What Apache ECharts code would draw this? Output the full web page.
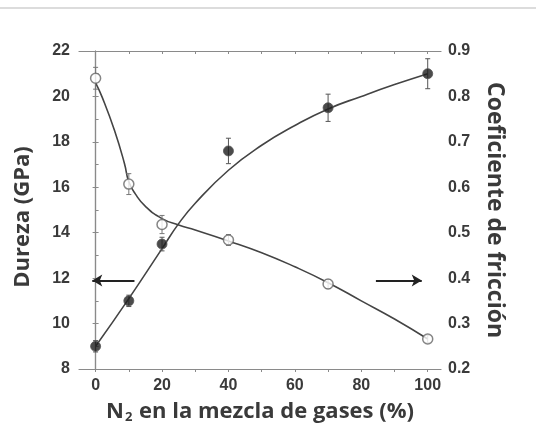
<!DOCTYPE html>
<html><head><meta charset="utf-8">
<script src="https://cdn.jsdelivr.net/npm/echarts@6/dist/echarts.min.js"></script>
<style>html,body{margin:0;padding:0;background:#fff}#c{width:536px;height:429px}</style>
</head><body><div id="c"></div>
<script>
// Measured data
const nitrogen = [0, 10, 20, 40, 70, 100];
const hardness = [9.0, 11.0, 13.5, 17.6, 19.5, 21.0];
const hardnessErr = [0.25, 0.25, 0.3, 0.56, 0.6, 0.66];
const friction = [0.84, 0.607, 0.518, 0.484, 0.387, 0.266];
const frictionErr = [0.024, 0.023, 0.02, 0.012, 0.01, 0.008];
// Fitted curves
const hardFitX = [0, 10, 20, 25, 30, 40, 50, 60, 70, 80, 90, 100];
const hardFitY = [9.0, 11.1, 13.3, 14.4, 15.3, 16.75, 17.85, 18.72, 19.45, 20.0, 20.52, 21.0];
const fricFitX = [0, 2, 5.7, 8.7, 10, 12, 15, 20, 25, 30, 40, 50, 60, 70, 80, 90, 100];
const fricFitY = [0.83, 0.798, 0.725, 0.652, 0.612, 0.585, 0.558, 0.531, 0.517, 0.506, 0.482, 0.456, 0.425, 0.39, 0.35, 0.31, 0.266];
// Tick values
const xLabelTicks = [0, 20, 40, 60, 80, 100];
const xAllTicks = [0, 10, 20, 30, 40, 50, 60, 70, 80, 90, 100];
// Arrow annotations (data coordinates)
const leftArrow = [[11.7, 11.9], [-1.0, 11.9]];
const rightArrow = [[84.4, 0.395], [98.2, 0.395]];

const textColor = '#3a3a3a';
const axisColor = '#8a8a8a';
const labelFont = {color: textColor, fontWeight: 'bold', fontSize: 16, fontFamily: 'Liberation Sans'};
const nameFontL = {color: textColor, fontWeight: 'bold', fontSize: 22, fontFamily: 'Open Sans'};
const nameFontR = {color: textColor, fontWeight: 'bold', fontSize: 23, fontFamily: 'Open Sans'};
const nameFontX = {color: textColor, fontWeight: 'bold', fontSize: 22, fontFamily: 'Open Sans'};

const chart = echarts.init(document.getElementById('c'), null, {renderer: 'canvas'});

function errSeries(ys, errs, yIdx, color) {
  return {
    type: 'custom', yAxisIndex: yIdx, silent: true, z: 3,
    data: nitrogen.map((x, i) => [x, ys[i], errs[i]]),
    renderItem: function (params, api) {
      const x = api.value(0), y = api.value(1), e = api.value(2);
      const top = api.coord([x, y + e]);
      const bot = api.coord([x, y - e]);
      const w = 2.5;
      return {
        type: 'group',
        children: [
          {type: 'line', shape: {x1: top[0], y1: top[1], x2: bot[0], y2: bot[1]}, style: {stroke: color, lineWidth: 1}},
          {type: 'line', shape: {x1: top[0] - w, y1: top[1], x2: top[0] + w, y2: top[1]}, style: {stroke: color, lineWidth: 1}},
          {type: 'line', shape: {x1: bot[0] - w, y1: bot[1], x2: bot[0] + w, y2: bot[1]}, style: {stroke: color, lineWidth: 1}}
        ]
      };
    }
  };
}

chart.setOption({
  animation: false,
  backgroundColor: '#fff',
  graphic: [{type: 'line', shape: {x1: 0, y1: 8, x2: 536, y2: 8}, style: {stroke: '#dcdcdc', lineWidth: 2}}],
  grid: {left: 79, right: 95, top: 51, bottom: 60},
  xAxis: [{
    type: 'value', min: -5, max: 104, position: 'bottom',
    name: '{n|N}{s|2}{n| en la mezcla de gases (%)}',
    nameLocation: 'middle', nameGap: 30,
    nameTextStyle: {rich: {n: nameFontX, s: Object.assign({}, nameFontX, {fontSize: 13, padding: [12, 1, 0, 1]})}},
    axisLine: {show: true, lineStyle: {color: axisColor, width: 1.2}},
    axisTick: {show: true, inside: false, length: 3, customValues: xAllTicks, lineStyle: {color: axisColor}},
    axisLabel: Object.assign({margin: 9, customValues: xLabelTicks}, labelFont),
    splitLine: {show: false}
  }, {
    type: 'value', min: -5, max: 104, position: 'top',
    axisLine: {show: true, lineStyle: {color: axisColor, width: 1.2}},
    axisTick: {show: true, inside: true, length: 3, customValues: xAllTicks, lineStyle: {color: axisColor}},
    axisLabel: {show: false},
    splitLine: {show: false}
  }],
  yAxis: [{
    type: 'value', min: 8, max: 22, interval: 2, position: 'left',
    name: 'Dureza (GPa)', nameLocation: 'middle', nameGap: 45, nameRotate: 90,
    nameTextStyle: Object.assign({padding: [0, 14, 0, 0]}, nameFontL),
    axisLine: {show: true, lineStyle: {color: axisColor, width: 1.2}},
    axisTick: {show: true, inside: true, length: 3, lineStyle: {color: axisColor}},
    minorTick: {show: true, splitNumber: 2, length: 3, lineStyle: {color: axisColor}},
    axisLabel: Object.assign({margin: 9}, labelFont),
    splitLine: {show: false}
  }, {
    type: 'value', min: 0.2, max: 0.9, interval: 0.1, position: 'right',
    name: 'Coeficiente de fricción', nameLocation: 'middle', nameGap: 42, nameRotate: -90,
    nameTextStyle: nameFontR,
    axisLine: {show: true, lineStyle: {color: axisColor, width: 1.2}},
    axisTick: {show: true, inside: true, length: 3, lineStyle: {color: axisColor}},
    axisLabel: Object.assign({margin: 7, formatter: v => v.toFixed(1)}, labelFont),
    splitLine: {show: false}
  }],
  series: [
    {
      type: 'line', yAxisIndex: 0, smooth: true, showSymbol: false, silent: true, z: 2,
      data: hardFitX.map((x, i) => [x, hardFitY[i]]),
      lineStyle: {color: '#444', width: 1.6},
      markLine: {
        silent: true, symbol: ['none', 'arrow'], symbolSize: [9, 10],
        label: {show: false},
        lineStyle: {color: '#222', width: 2, type: 'solid'},
        data: [[{coord: leftArrow[0]}, {coord: leftArrow[1]}]]
      }
    },
    {
      type: 'line', yAxisIndex: 1, smooth: true, showSymbol: false, silent: true, z: 2,
      data: fricFitX.map((x, i) => [x, fricFitY[i]]),
      lineStyle: {color: '#444', width: 1.6},
      markLine: {
        silent: true, symbol: ['none', 'arrow'], symbolSize: [9, 10],
        label: {show: false},
        lineStyle: {color: '#222', width: 2, type: 'solid'},
        data: [[{coord: rightArrow[0]}, {coord: rightArrow[1]}]]
      }
    },
    errSeries(hardness, hardnessErr, 0, '#555'),
    errSeries(friction, frictionErr, 1, '#777'),
    {
      type: 'scatter', yAxisIndex: 0, symbol: 'circle', symbolSize: 10, z: 5,
      data: nitrogen.map((x, i) => [x, hardness[i]]),
      itemStyle: {color: '#1e1e1e', borderColor: '#555', borderWidth: 1}
    },
    {
      type: 'scatter', yAxisIndex: 1, symbol: 'circle', symbolSize: 10, z: 5,
      data: nitrogen.map((x, i) => [x, friction[i]]),
      itemStyle: {color: '#fff', borderColor: '#666', borderWidth: 1.5}
    }
  ]
});
</script></body></html>
